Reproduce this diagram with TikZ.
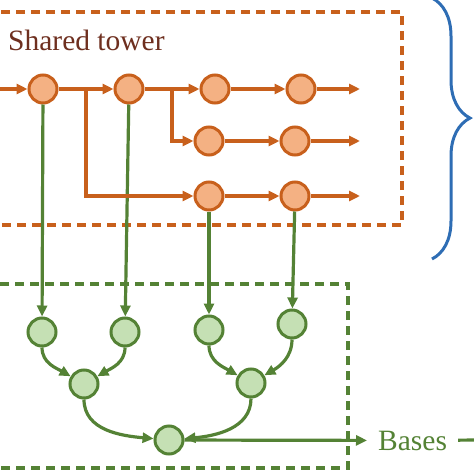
\documentclass[tikz,border=0pt]{standalone}
\usepackage{fontspec}
\setmainfont{Liberation Serif}
\usetikzlibrary{arrows.meta,positioning,calc,decorations.pathreplacing}
\definecolor{rust}{HTML}{C8601C}
\definecolor{peach}{HTML}{F4B183}
\definecolor{moss}{HTML}{548235}
\definecolor{mint}{HTML}{C5E0B4}
\definecolor{cocoa}{HTML}{6E2F1F}
\definecolor{ocean}{HTML}{2E6DB4}
\tikzset{unit/.style={circle,draw=rust,line width=3pt,fill=peach,minimum size=28pt,inner sep=0pt},base/.style={circle,draw=moss,line width=3pt,fill=mint,minimum size=28pt,inner sep=0pt},oarrow/.style={-{Triangle[length=11pt,width=10pt]},line width=3.2pt,draw=rust},garrow/.style={-{Triangle[length=11pt,width=10pt]},line width=3.2pt,draw=moss},title/.style={inner sep=0pt,anchor=base west,font=\fontsize{29.5}{35}\selectfont},frame/.style={line width=3.2pt,dash pattern=on 9pt off 6pt}}
\begin{document}
\begin{tikzpicture}[x=1pt,y=1pt,node distance=55pt]
\useasboundingbox (0,0) rectangle (474,-474);
\clip (0,0) rectangle (474,-474);
% shared tower
\draw[frame,draw=rust] (-10,-12) rectangle (402,-225);
\node[title,text=cocoa] (st) at (8,-50) {Shared tower};
\node[unit] (a1) at (43,-89) {};
\node[unit,right=of a1] (a2) {};
\node[unit,right=of a2] (a3) {};
\node[unit,right=of a3] (a4) {};
\node[unit] (b1) at (209,-141) {};
\node[unit,right=of b1] (b2) {};
\node[unit] (c1) at (209,-196) {};
\node[unit,right=of c1] (c2) {};
\coordinate (in) at (0,-89);
\coordinate (o1) at (360,-89);\coordinate (o2) at (360,-141);\coordinate (o3) at (360,-196);
\coordinate (j1) at ($(a1.east)!.5!(a2.west)$);
\coordinate (j2) at ($(a2.east)!.5!(a3.west)$);
% bases
\draw[frame,draw=moss] (-10,-284) rectangle (348,-468);
\node[base] (g1) at (42,-332) {};
\node[base] (g2) at (125,-332) {};
\node[base] (g3) at (209,-330) {};
\node[base] (g4) at (292,-324) {};
\node[base] (g5) at (84,-384) {};
\node[base] (g6) at (251,-383) {};
\node[base] (g7) at (169,-440) {};
\node[title,text=moss,inner xsep=11pt] (bs) at (367,-450) {Bases};
\coordinate (cut) at (480,-440);
\draw[garrow](a1)--(g1);\draw[garrow](a2)--(g2);\draw[garrow](c1)--(g3);\draw[garrow](c2)--(g4);
\draw[garrow](g1) to[out=-90,in=150] (g5);\draw[garrow](g2) to[out=-90,in=30] (g5);
\draw[garrow](g3) to[out=-90,in=150] (g6);\draw[garrow](g4) to[out=-90,in=30] (g6);
\draw[garrow](g5) to[out=-90,in=175] (g7);\draw[garrow](g6) to[out=-90,in=5] (g7);
\draw[garrow](g7)--(bs);\draw[line width=3.2pt,moss](bs)--(cut);
\draw[oarrow](in)--(a1);\draw[oarrow](a1)--(a2);\draw[oarrow](a2)--(a3);\draw[oarrow](a3)--(a4);\draw[oarrow](a4)--(o1);
\draw[oarrow](j2)|-(b1);\draw[oarrow](b1)--(b2);\draw[oarrow](b2)--(o2);
\draw[oarrow](j1)|-(c1);\draw[oarrow](c1)--(c2);\draw[oarrow](c2)--(o3);
\draw[ocean,line width=3pt,decorate,decoration={brace,amplitude=38pt,aspect=0.46}] (432,2) -- (432,-259);
\end{tikzpicture}
\end{document}
